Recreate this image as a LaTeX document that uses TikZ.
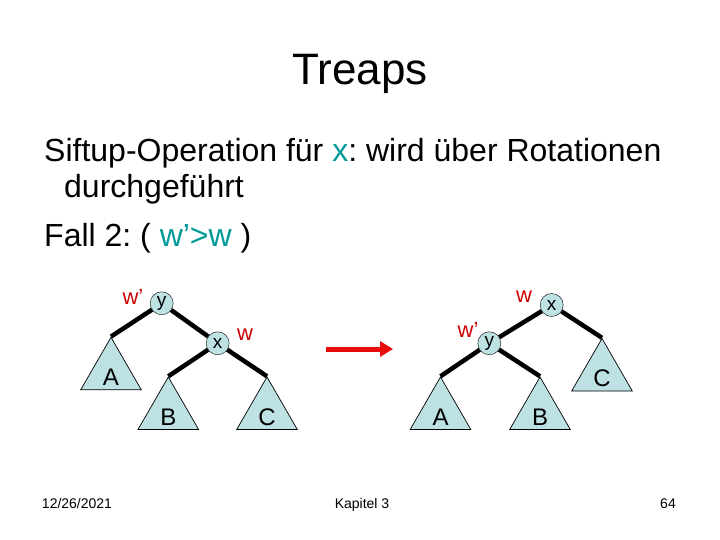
\documentclass[tikz,border=0pt]{standalone}
\usepackage{fontspec}
\setmainfont{Liberation Sans}
\usetikzlibrary{arrows.meta,shapes.geometric}
\definecolor{nodefill}{RGB}{190,225,228}
\definecolor{prioRed}{RGB}{204,0,0}
\definecolor{arrowRed}{RGB}{232,12,12}
\definecolor{hlTeal}{RGB}{0,153,153}
\frenchspacing

\begin{document}
\begin{tikzpicture}[x=1pt, y=-1pt,
  key/.style={draw, circle, fill=nodefill, minimum size=23pt, inner sep=0pt, font=\fontsize{19}{19}\selectfont},
  subtree/.style={draw, line width=0.7pt, regular polygon, regular polygon sides=3, fill=nodefill, minimum size=70pt, inner sep=0pt},
  leaf/.style={yshift=-5pt, font=\fontsize{24}{24}\selectfont},
  prio/.style={text=prioRed, font=\fontsize{22}{22}\selectfont},
  txt/.style={inner sep=0pt, anchor=base west, font=\fontsize{32}{32}\selectfont},
  foot/.style={inner sep=0pt, anchor=base, font=\fontsize{14}{14}\selectfont},
  edge/.style={line width=4.5pt},
  rot/.style={-{Triangle[length=13pt,width=15pt]}, line width=5pt, arrowRed},
]
  \useasboundingbox (0,0) rectangle (720,540);

  % title and text
  \node[inner sep=0pt, anchor=base, font=\fontsize{44}{44}\selectfont] (title) at (360,85) {Treaps};
  \node[txt] (line1) at (44,162) {Siftup-Operation für \textcolor{hlTeal}{x}: wird über Rotationen};
  \node[txt] (line2) at (64,197) {durchgeführt};
  \node[txt] (line3) at (44,246) {Fall 2: ( \textcolor{hlTeal}{w’>w} )};

  % left tree
  \node[key] (ly) at (161.7,303.3) {y};
  \node[key] (lx) at (217.7,343.3) {x};
  \node[subtree, label={[leaf]center:A}] (lA) at (111,372.3) {};
  \node[subtree, label={[leaf]center:B}] (lB) at (168.3,412) {};
  \node[subtree, label={[leaf]center:C}] (lC) at (267,412) {};
  \node[prio] (lwy) at (133,297) {w’};
  \node[prio] (lwx) at (245,335) {w};

  \draw[edge] (ly) -- (lA.corner 1);
  \draw[edge] (ly) -- (lx);
  \draw[edge] (lx) -- (lB.corner 1);
  \draw[edge] (lx) -- (lC.corner 1);

  % rotation
  \coordinate (rotStart) at (326,349);
  \coordinate (rotEnd) at (393,349);
  \draw[rot] (rotStart) -- (rotEnd);

  % right tree
  \node[key] (rx) at (551.7,305) {x};
  \node[key] (ry) at (489.3,343.3) {y};
  \node[subtree, label={[leaf]center:A}] (rA) at (440.5,412) {};
  \node[subtree, label={[leaf]center:B}] (rB) at (540,412) {};
  \node[subtree, label={[leaf]center:C}] (rC) at (602,373.5) {};
  \node[prio] (rwx) at (524,297) {w};
  \node[prio] (rwy) at (468,330) {w’};

  \draw[edge] (rx) -- (ry);
  \draw[edge] (rx) -- (rC.corner 1);
  \draw[edge] (ry) -- (rA.corner 1);
  \draw[edge] (ry) -- (rB.corner 1);

  % footer
  \node[foot] (date) at (77,508) {12/26/2021};
  \node[foot] (chapter) at (362,508) {Kapitel 3};
  \node[foot] (page) at (668,508) {64};
\end{tikzpicture}
\end{document}
